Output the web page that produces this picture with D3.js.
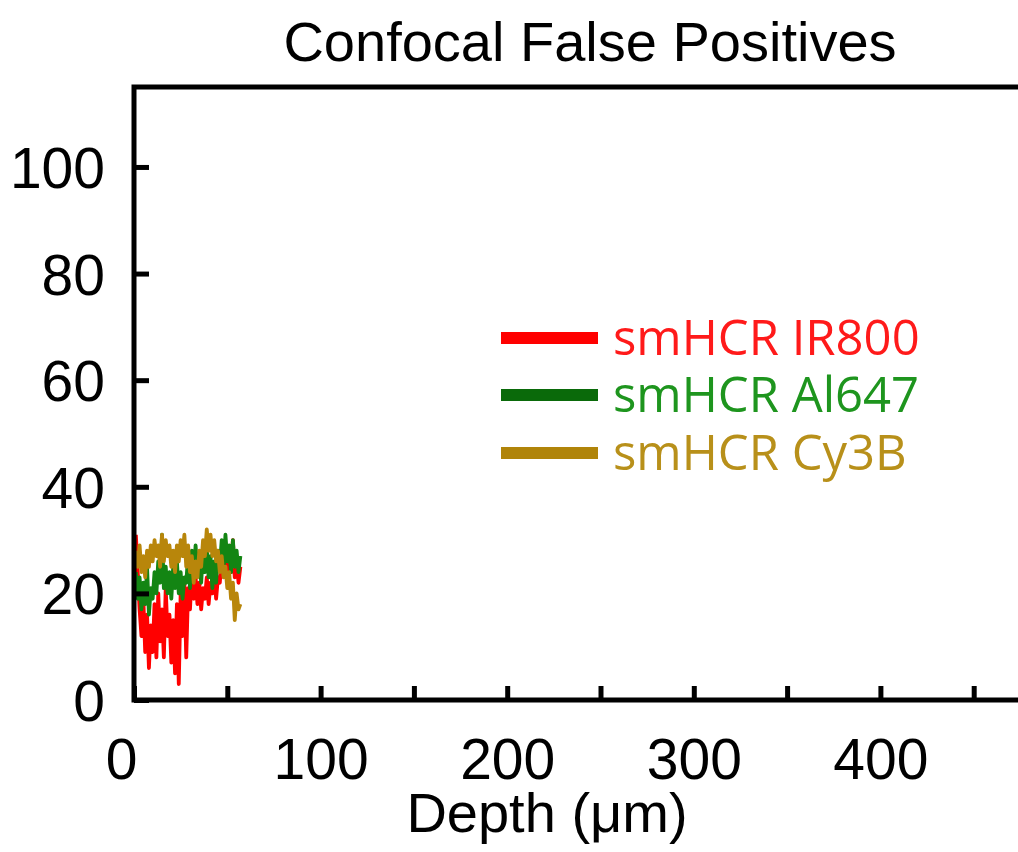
<!DOCTYPE html>
<html>
<head>
<meta charset="utf-8">
<script src="https://cdn.jsdelivr.net/npm/d3@7"></script>
<style>
  body { margin: 0; background: #fff; }
  svg { display: block; }
</style>
</head>
<body>
<div id="chart"></div>
<script>
// depth in um, one sample per um
var depth = [1, 2, 3, 4, 5, 6, 7, 8, 9, 10, 11, 12, 13, 14, 15, 16, 17, 18, 19, 20,
             21, 22, 23, 24, 25, 26, 27, 28, 29, 30, 31, 32, 33, 34, 35, 36, 37, 38, 39, 40,
             41, 42, 43, 44, 45, 46, 47, 48, 49, 50, 51, 52, 53, 54, 55, 56, 57];

var ir800 = [31, 24, 17, 12, 19, 9, 16, 6, 14, 9, 18, 8, 20, 11, 17, 8, 21, 12, 16, 7,
             15, 5, 18, 3, 20, 12, 22, 8, 21, 17, 24, 19, 23, 18, 22, 17, 21, 19, 23, 18,
             22, 20, 24, 19, 23, 22, 27, 24, 29, 23, 28, 24, 30, 23, 27, 22, 25];

var al647 = [24, 19, 23, 17, 22, 18, 25, 16, 21, 19, 24, 20, 26, 22, 31, 21, 25, 20, 24, 19,
             25, 21, 26, 20, 24, 19, 23, 22, 27, 21, 28, 23, 29, 24, 27, 22, 28, 24, 29, 23,
             27, 21, 26, 22, 28, 25, 30, 24, 31, 26, 29, 24, 30, 25, 28, 24, 27];

var cy3b = [28, 25, 29, 24, 27, 23, 28, 25, 29, 26, 30, 27, 29, 25, 31, 26, 30, 27, 29, 25,
            28, 24, 29, 26, 30, 27, 31, 25, 29, 24, 27, 22, 26, 23, 28, 25, 30, 27, 32, 28,
            31, 27, 30, 26, 28, 24, 27, 23, 25, 21, 24, 19, 22, 15, 20, 17, 18];

var series_names  = ["smHCR IR800", "smHCR Al647", "smHCR Cy3B"];
var series_values = [ir800, al647, cy3b];
var line_colors   = ["#ff0000", "#138513", "#b8860b"];
var key_colors    = ["#ff0000", "#0a6a0a", "#b08409"];
var text_colors   = ["#ff1a1a", "#1e951e", "#b8901a"];

var x_ticks  = [0, 50, 100, 150, 200, 250, 300, 350, 400, 450, 500];
var y_ticks  = [0, 20, 40, 60, 80, 100];

var width  = 1018;
var height = 852;
var plot_left   = 134;
var plot_top    = 87;
var plot_bottom = 700;

var svg = d3.select("#chart").append("svg")
  .attr("width", width)
  .attr("height", height);

var scalex = d3.scaleLinear().domain([0, 500]).range([plot_left, plot_left + 933]);
var scaley = d3.scaleLinear().domain([0, 115]).range([plot_bottom, plot_top]);

var font = "'Liberation Sans', Arial, Helvetica, sans-serif";

// data lines first, frame drawn over them
var line = d3.line()
  .x(function (d, i) { return scalex(depth[i]); })
  .y(function (d) { return scaley(d); });

series_values.forEach(function (vals, k) {
  svg.append("path")
    .datum(vals)
    .attr("d", line)
    .attr("fill", "none")
    .attr("stroke", line_colors[k])
    .attr("stroke-width", 3.8)
    .attr("stroke-linejoin", "round");
});

// axes
var x_axis = d3.axisBottom(scalex)
  .tickValues(x_ticks)
  .tickSizeInner(-14)
  .tickSizeOuter(0)
  .tickFormat(function (d) { return d % 100 == 0 && d < 500 ? d : ""; });

var gx = svg.append("g")
  .attr("class", "x_axis")
  .attr("transform", "translate(0," + plot_bottom + ")")
  .call(x_axis);

var y_axis = d3.axisLeft(scaley)
  .tickValues(y_ticks)
  .tickSizeInner(-15)
  .tickSizeOuter(0)
  .tickPadding(29);

var gy = svg.append("g")
  .attr("class", "y_axis")
  .attr("transform", "translate(" + plot_left + ",0)")
  .call(y_axis);

[gx, gy].forEach(function (g) {
  g.select(".domain").remove();
  g.selectAll("line").attr("stroke", "#000").attr("stroke-width", 5);
  g.selectAll("text")
    .attr("fill", "#000")
    .style("font-family", font)
    .style("font-size", "57px");
});

gx.selectAll("text").attr("y", 39);
gx.selectAll("text").filter(function (d) { return d == 0; }).attr("dx", -13);
gy.selectAll("text").attr("dy", "0.36em");

// frame: left, top and bottom edges (right edge is outside the picture)
svg.append("path")
  .attr("d", "M" + scalex(500) + "," + scaley(115) +
             "H" + plot_left + "V" + plot_bottom + "H" + scalex(500))
  .attr("fill", "none")
  .attr("stroke", "#000")
  .attr("stroke-width", 5)
  .attr("stroke-linejoin", "miter");

// title and axis label
svg.append("text")
  .attr("x", 590)
  .attr("y", 61)
  .attr("text-anchor", "middle")
  .style("font-family", font)
  .style("font-size", "56px")
  .text("Confocal False Positives");

svg.append("text")
  .attr("x", 547)
  .attr("y", 832)
  .attr("text-anchor", "middle")
  .style("font-family", font)
  .style("font-size", "56px")
  .text("Depth (\u03bcm)");

// legend
var legend_y = [338, 395, 453];
var legend = svg.append("g").attr("class", "legend");

series_names.forEach(function (name, k) {
  legend.append("line")
    .attr("x1", 501)
    .attr("x2", 598)
    .attr("y1", legend_y[k])
    .attr("y2", legend_y[k])
    .attr("stroke", key_colors[k])
    .attr("stroke-width", 12);
  legend.append("text")
    .attr("x", 613)
    .attr("y", legend_y[k] + 17)
    .attr("fill", text_colors[k])
    .style("font-family", "'Open Sans', 'Noto Sans', sans-serif")
    .style("font-size", "49px")
    .text(name);
});
</script>
</body>
</html>
